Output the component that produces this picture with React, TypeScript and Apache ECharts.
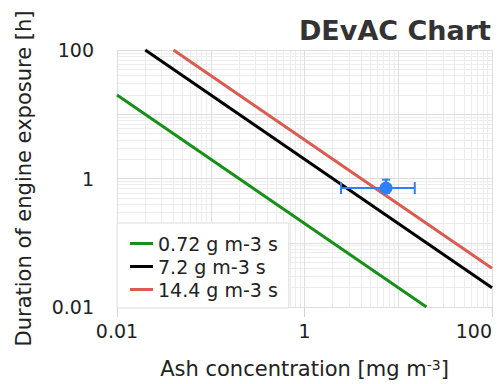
import React, { useEffect, useRef } from "react";
import * as echarts from "echarts";

const seriesNames = ["0.72 g m-3 s", "7.2 g m-3 s", "14.4 g m-3 s"];
const seriesColors = ["#17901a", "#000000", "#dc5b50"];
const greenLine = [[0.01, 20], [20, 0.01]];
const blackLine = [[0.02, 100], [100, 0.02]];
const redLine = [[0.04, 100], [100, 0.04]];
const obsPoint = [7.4, 0.71];
const obsErrX = [2.45, 15];
const obsErrY = [0.6, 0.96];
const decades = [0.01, 0.1, 1, 10];
const multiples = [2, 3, 4, 5, 6, 7, 8, 9];
const majorGrid = [0.01, 0.1, 1, 10, 100];

const FONT = "DejaVu Sans";

export default function App() {
  const ref = useRef<HTMLDivElement>(null);
  useEffect(() => {
    if (!ref.current) return;
    const chart = echarts.init(ref.current, null, { renderer: "svg" });
    const minorGrid: number[] = [];
    decades.forEach((d) => multiples.forEach((m) => minorGrid.push(+(d * m).toPrecision(3))));
    const gridLines = [
      ...minorGrid.map((v) => ({ xAxis: v, lineStyle: { color: "#ececec" } })),
      ...minorGrid.map((v) => ({ yAxis: v, lineStyle: { color: "#ececec" } })),
      ...majorGrid.map((v) => ({ xAxis: v, lineStyle: { color: "#dedede" } })),
      ...majorGrid.map((v) => ({ yAxis: v, lineStyle: { color: "#dedede" } })),
    ];
    const lines = [greenLine, blackLine, redLine];
    chart.setOption({
      animation: false,
      textStyle: { fontFamily: FONT },
      title: {
        text: "DEvAC Chart",
        right: 4,
        top: 12,
        textStyle: { fontFamily: FONT, fontSize: 27, fontWeight: "bold", color: "#333" },
      },
      grid: { left: 117, right: 8, top: 50, bottom: 76 },
      legend: {
        data: seriesNames,
        orient: "vertical",
        left: 117,
        top: 223,
        icon: "rect",
        itemWidth: 23,
        itemHeight: 3,
        itemGap: 4,
        padding: [11, 11, 9, 13],
        backgroundColor: "#fff",
        borderColor: "#dcdcdc",
        borderWidth: 1,
        z: 10,
        textStyle: { fontFamily: FONT, fontSize: 19, color: "#222", lineHeight: 19 },
      },
      xAxis: {
        type: "log",
        logBase: 100,
        min: 0.01,
        max: 100,
        name: "{a|Ash concentration [mg m}{s|-3}{a|]}",
        nameLocation: "middle",
        nameGap: 51,
        nameTextStyle: {
          rich: {
            a: { fontFamily: FONT, fontSize: 21, color: "#222" },
            s: { fontFamily: FONT, fontSize: 14, color: "#222", verticalAlign: "top" },
          },
        },
        axisLine: { show: true, lineStyle: { color: "#c9d3e6", width: 1 } },
        axisTick: { show: true, length: 10, lineStyle: { color: "#c9d3e6" } },
        axisLabel: { fontFamily: FONT, fontSize: 19, color: "#222", margin: 14, alignMaxLabel: "right" },
        splitLine: { show: false },
      },
      yAxis: {
        type: "log",
        logBase: 100,
        min: 0.01,
        max: 100,
        name: "Duration of engine exposure [h]",
        nameLocation: "middle",
        nameGap: 83,
        nameTextStyle: { fontFamily: FONT, fontSize: 21, color: "#222" },
        axisLine: { show: false },
        axisTick: { show: false },
        axisLabel: { fontFamily: FONT, fontSize: 19, color: "#222", margin: 23 },
        splitLine: { show: false },
      },
      series: [
        {
          name: "grid",
          type: "line",
          data: [],
          z: 1,
          silent: true,
          markLine: {
            z: 1,
            silent: true,
            symbol: ["none", "none"],
            label: { show: false },
            lineStyle: { type: "solid", width: 1 },
            data: gridLines,
          },
        },
        ...lines.map((d, i) => ({
          name: seriesNames[i],
          type: "line",
          data: d,
          symbol: "none",
          z: 3,
          lineStyle: { color: seriesColors[i], width: 3 },
          itemStyle: { color: seriesColors[i] },
        })),
        {
          name: "obs-err",
          type: "custom",
          z: 4,
          data: [[obsPoint[0], obsPoint[1], obsErrX[0], obsErrX[1], obsErrY[0], obsErrY[1]]],
          encode: { x: 0, y: 1 },
          renderItem: (params: any, api: any) => {
            const x = api.value(0);
            const y = api.value(1);
            const pL = api.coord([api.value(2), y]);
            const pR = api.coord([api.value(3), y]);
            const pB = api.coord([x, api.value(4)]);
            const pT = api.coord([x, api.value(5)]);
            const st = { stroke: "#2d7ff5", lineWidth: 2 };
            const capX = 6;
            const capY = 4;
            return {
              type: "group",
              children: [
                { type: "line", shape: { x1: pL[0], y1: pL[1], x2: pR[0], y2: pR[1] }, style: st },
                { type: "line", shape: { x1: pL[0], y1: pL[1] - capX, x2: pL[0], y2: pL[1] + capX }, style: st },
                { type: "line", shape: { x1: pR[0], y1: pR[1] - capX, x2: pR[0], y2: pR[1] + capX }, style: st },
                { type: "line", shape: { x1: pB[0], y1: pB[1], x2: pT[0], y2: pT[1] }, style: st },
                { type: "line", shape: { x1: pT[0] - capY, y1: pT[1], x2: pT[0] + capY, y2: pT[1] }, style: st },
                { type: "line", shape: { x1: pB[0] - capY, y1: pB[1], x2: pB[0] + capY, y2: pB[1] }, style: st },
              ],
            };
          },
        },
        {
          name: "obs",
          type: "scatter",
          z: 5,
          data: [obsPoint],
          symbolSize: 13,
          itemStyle: { color: "#2d7ff5", opacity: 1 },
        },
      ],
    });
    return () => chart.dispose();
  }, []);
  return <div ref={ref} style={{ width: 500, height: 384, position: "absolute", left: 0, top: 0 }} />;
}
